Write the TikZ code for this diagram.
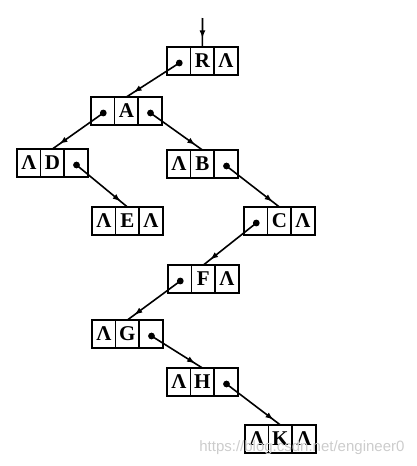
\documentclass[tikz,border=0pt]{standalone}
\usepackage{fontspec}
\setmainfont{Liberation Serif}
\usepackage{tikz}
\usetikzlibrary{positioning}
\usetikzlibrary{arrows,decorations.markings}

\tikzset{
	cell/.style={draw=black,
		line width=1.6pt,
		minimum width=23.6pt,
		minimum height=28pt,
		inner sep=0pt,
		outer sep=0pt,
		font=\bfseries\fontsize{21}{24}\selectfont},
	link/.style={line width=1.6pt,
		>=latex,
		postaction={decorate},
		decoration={markings, mark=at position -9pt with {\arrow{>}}}}
}

\begin{document}
\begin{tikzpicture}[x=1pt, y=-1pt]
	\useasboundingbox (0,0) rectangle (416,466);
	% Add the records
	\foreach \n/\x/\y/\l/\m/\r in {r/167/47/{}/R/Λ,
		a/91/97/{}/A/{},
		d/17/149/Λ/D/{},
		b/167/150/Λ/B/{},
		e/92/207/Λ/E/Λ,
		c/244/207/{}/C/Λ,
		f/168/265/{}/F/Λ,
		g/92/320/Λ/G/{},
		h/167/368/Λ/H/{},
		k/245/425/Λ/K/Λ}
	{
		\node[cell, anchor=north west] (\n-l) at (\x,\y) {\l};
		\node[cell, right=0pt of \n-l] (\n) {\m};
		\node[cell, right=0pt of \n] (\n-r) {\r};
	}

	% Add the pointers
	\foreach \c in {r-l, a-l, a-r, d-r, b-r, c-l, f-l, g-r, h-r}
	{
		\coordinate (\c-p) at ([xshift=0.5pt, yshift=-2pt]\c.center);
		\fill (\c-p) circle (3.4pt);
	}
	\coordinate (head) at (202.5,18);

	\draw[link] (head) -- (r.north);
	\draw[link] (r-l-p) -- (a.north);
	\draw[link] (a-l-p) -- (d.north);
	\draw[link] (a-r-p) -- (b.north);
	\draw[link] (d-r-p) -- (e.north);
	\draw[link] (b-r-p) -- (c.north);
	\draw[link] (c-l-p) -- (f.north);
	\draw[link] (f-l-p) -- (g.north);
	\draw[link] (g-r-p) -- (h.north);
	\draw[link] (h-r-p) -- (k.north);

	% watermark
	\node[text=gray!40,
		  font=\fontspec{Liberation Sans}\fontsize{15}{18}\selectfont,
		  anchor=east] (wm) at (408,448) {https://blog.csdn.net/engineer0};
\end{tikzpicture}
\end{document}
